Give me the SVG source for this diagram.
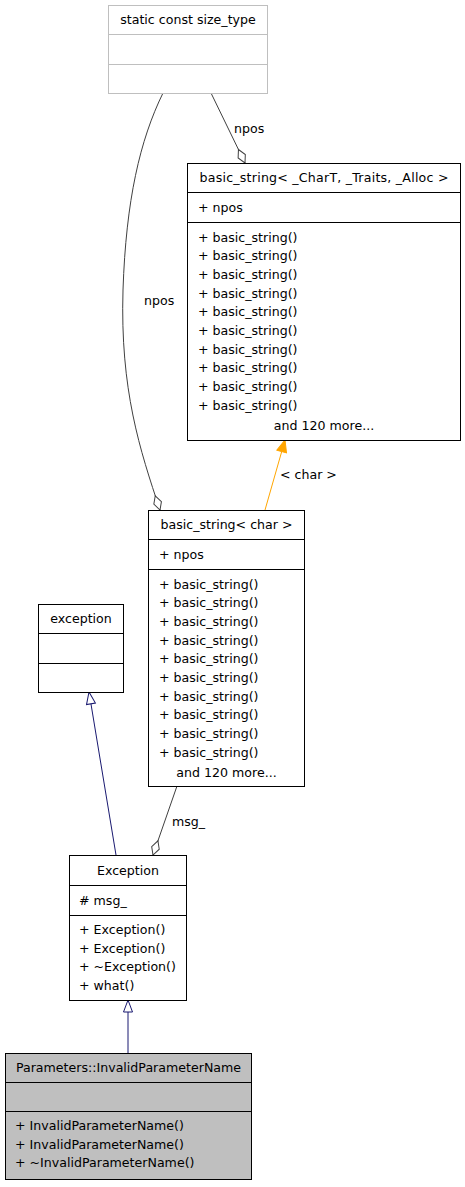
<svg xmlns="http://www.w3.org/2000/svg" width="465" height="1187" viewBox="0 0 465 1187">
<style>
text{font-family:"DejaVu Sans","Liberation Sans",sans-serif;font-size:12.6px;fill:#000}
.c{text-anchor:middle}
.box{fill:#fff;stroke:#000;stroke-width:1}
.gbox{fill:#fff;stroke:#bfbfbf;stroke-width:1}
.sel{fill:#bfbfbf;stroke:#000;stroke-width:1}
.ln{stroke:#000;stroke-width:1}
.gln{stroke:#bfbfbf;stroke-width:1}
.agg{fill:none;stroke:#404040;stroke-width:1}
.inh{fill:none;stroke:#191970;stroke-width:1}
.tpl{fill:none;stroke:#ffa500;stroke-width:1}
</style>
<defs>
<marker id="dia" markerUnits="userSpaceOnUse" viewBox="-1 -6 17 12" markerWidth="17" markerHeight="12" refX="15" refY="0" orient="auto">
<path d="M0,0 L7.5,-4 L15,0 L7.5,4 Z" fill="#fff" stroke="#404040" stroke-width="1"/>
</marker>
<marker id="tri" markerUnits="userSpaceOnUse" viewBox="-1 -6 14 12" markerWidth="14" markerHeight="12" refX="12" refY="0" orient="auto">
<path d="M0,-4.5 L12,0 L0,4.5 Z" fill="#fff" stroke="#191970" stroke-width="1"/>
</marker>
<marker id="otri" markerUnits="userSpaceOnUse" viewBox="-1 -6 14 12" markerWidth="14" markerHeight="12" refX="12" refY="0" orient="auto">
<path d="M0,-5 L12,0 L0,5 Z" fill="#ffa500" stroke="#ffa500" stroke-width="1"/>
</marker>
</defs>

<g id="connectors">
<path class="agg" d="M211,93 L245,163" marker-end="url(#dia)"/>
<text x="234" y="133">npos</text>
<path class="agg" d="M163,93 C140,140 126,200 123,290 C120,390 140,450 160,510" marker-end="url(#dia)"/>
<text x="144" y="305">npos</text>
<path class="tpl" d="M265,510 L285,440" marker-end="url(#otri)"/>
<text x="280" y="479">&lt; char &gt;</text>
<path class="agg" d="M177,786 L153,855" marker-end="url(#dia)"/>
<text x="172" y="826">msg_</text>
<path class="inh" d="M116,855 L89,692" marker-end="url(#tri)"/>
<path class="inh" d="M128,1053 L128,1000" marker-end="url(#tri)"/>
</g>

<g id="node-size_type">
<rect class="gbox" x="108.5" y="5.5" width="159" height="88"/>
<line class="gln" x1="108.5" y1="34.5" x2="267.5" y2="34.5"/>
<line class="gln" x1="108.5" y1="64.5" x2="267.5" y2="64.5"/>
<text class="c" x="188" y="24">static const size_type</text>
</g>

<g id="node-basic_string_tpl">
<rect class="box" x="187.5" y="163.5" width="273" height="277"/>
<line class="ln" x1="187.5" y1="192.5" x2="460.5" y2="192.5"/>
<line class="ln" x1="187.5" y1="222.5" x2="460.5" y2="222.5"/>
<text class="c" x="324" y="182" textLength="249" lengthAdjust="spacing">basic_string&lt; _CharT, _Traits, _Alloc &gt;</text>
<text x="198" y="212">+ npos</text>
<text x="198" y="241.5">+ basic_string()</text>
<text x="198" y="260.2">+ basic_string()</text>
<text x="198" y="278.9">+ basic_string()</text>
<text x="198" y="297.6">+ basic_string()</text>
<text x="198" y="316.3">+ basic_string()</text>
<text x="198" y="335">+ basic_string()</text>
<text x="198" y="353.7">+ basic_string()</text>
<text x="198" y="372.4">+ basic_string()</text>
<text x="198" y="391.1">+ basic_string()</text>
<text x="198" y="409.8">+ basic_string()</text>
<text class="c" x="324" y="430">and 120 more...</text>
</g>

<g id="node-basic_string_char">
<rect class="box" x="148.5" y="510.5" width="156" height="276"/>
<line class="ln" x1="148.5" y1="539.5" x2="304.5" y2="539.5"/>
<line class="ln" x1="148.5" y1="569.5" x2="304.5" y2="569.5"/>
<text class="c" x="226.5" y="529">basic_string&lt; char &gt;</text>
<text x="159" y="559">+ npos</text>
<text x="159" y="588.5">+ basic_string()</text>
<text x="159" y="607.2">+ basic_string()</text>
<text x="159" y="625.9">+ basic_string()</text>
<text x="159" y="644.6">+ basic_string()</text>
<text x="159" y="663.3">+ basic_string()</text>
<text x="159" y="682">+ basic_string()</text>
<text x="159" y="700.7">+ basic_string()</text>
<text x="159" y="719.4">+ basic_string()</text>
<text x="159" y="738.1">+ basic_string()</text>
<text x="159" y="756.8">+ basic_string()</text>
<text class="c" x="226.5" y="777">and 120 more...</text>
</g>

<g id="node-exception">
<rect class="box" x="38.5" y="604.5" width="85" height="88"/>
<line class="ln" x1="38.5" y1="633.5" x2="123.5" y2="633.5"/>
<line class="ln" x1="38.5" y1="663.5" x2="123.5" y2="663.5"/>
<text class="c" x="81" y="623">exception</text>
</g>

<g id="node-Exception">
<rect class="box" x="69.5" y="855.5" width="117" height="145"/>
<line class="ln" x1="69.5" y1="885.5" x2="186.5" y2="885.5"/>
<line class="ln" x1="69.5" y1="915.5" x2="186.5" y2="915.5"/>
<text class="c" x="128" y="875">Exception</text>
<text x="79" y="904.5"># msg_</text>
<text x="79" y="934">+ Exception()</text>
<text x="79" y="952.7">+ Exception()</text>
<text x="79" y="971.4">+ ~Exception()</text>
<text x="79" y="990.1">+ what()</text>
</g>

<g id="node-InvalidParameterName">
<rect class="sel" x="5.5" y="1053.5" width="246" height="126"/>
<line class="ln" x1="5.5" y1="1082.5" x2="251.5" y2="1082.5"/>
<line class="ln" x1="5.5" y1="1111.5" x2="251.5" y2="1111.5"/>
<text class="c" x="128.5" y="1072">Parameters::InvalidParameterName</text>
<text x="15" y="1130">+ InvalidParameterName()</text>
<text x="15" y="1148.7">+ InvalidParameterName()</text>
<text x="15" y="1167.4">+ ~InvalidParameterName()</text>
</g>
</svg>
